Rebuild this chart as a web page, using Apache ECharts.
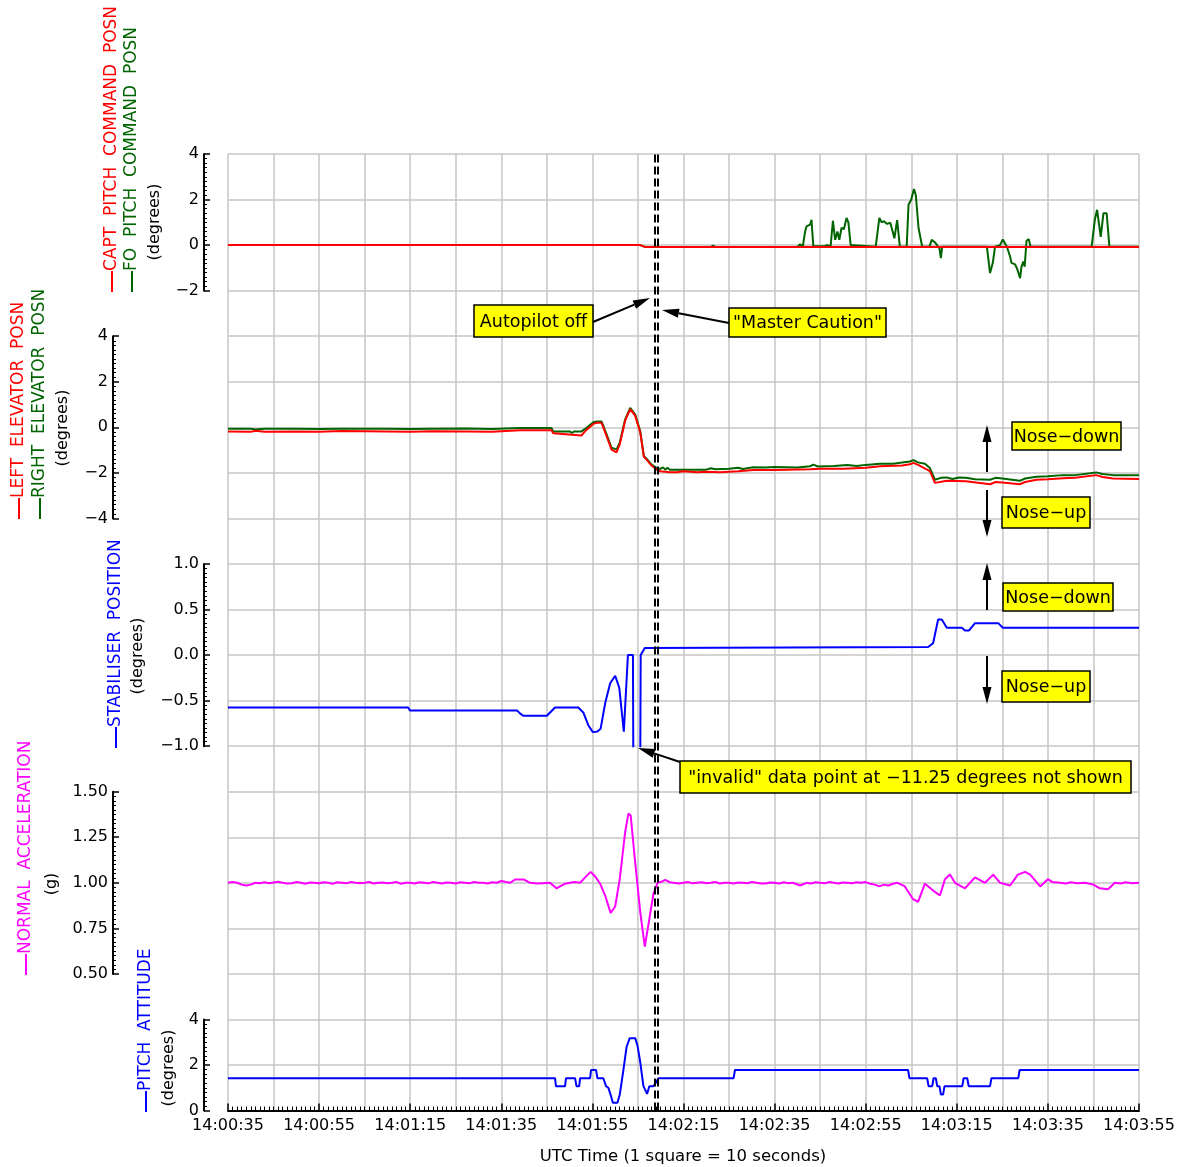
<!DOCTYPE html>
<html>
<head>
<meta charset="utf-8">
<script src="https://cdn.jsdelivr.net/npm/echarts@6/dist/echarts.min.js"></script>
<style>
html,body{margin:0;padding:0;background:#fff;}
#chart{width:1184px;height:1167px;}
</style>
</head>
<body>
<div id="chart"></div>
<script>
// ---------------- DATA (time = seconds after 14:00:35 UTC) ----------------
const xTickLabels = ['14:00:35','14:00:55','14:01:15','14:01:35','14:01:55','14:02:15','14:02:35','14:02:55','14:03:15','14:03:35','14:03:55'];
const eventTimes = [93.6, 94.4]; // autopilot off / master caution

const captPitchCmd = [[0,0],[90.5,0],[91.5,-0.08],[200,-0.08]];
const foPitchCmd = [[0,0],[90.5,0],[91.5,-0.08],[106,-0.08],[106.5,-0.02],[107,-0.08],[113,-0.08],[113.4,-0.03],[113.8,-0.08],[125,-0.08],[125.6,0.04],[126.2,-0.05],[126.7,0.6],[127.0,0.82],[127.8,0.9],[128.1,1.11],[128.5,-0.05],[131,-0.05],[131.5,0.0],[132.3,-0.05],[132.8,1.07],[133.3,0.23],[133.8,0.6],[134.2,0.23],[134.7,0.76],[135.2,0.7],[135.8,1.19],[136.2,1.0],[136.7,0.0],[137,-0.07],[142.2,-0.07],[143,1.19],[143.5,1.0],[144,1.05],[144.7,0.93],[145.4,0.98],[145.8,1.0],[146.3,0.3],[146.9,1.1],[147.5,-0.07],[149.0,-0.07],[149.4,1.77],[150.0,2.0],[150.6,2.46],[151.0,2.2],[151.6,0.75],[152.4,-0.07],[154.0,-0.07],[154.5,0.23],[155.3,0.1],[156.2,-0.15],[156.5,-0.57],[156.8,-0.07],[161.1,-0.07],[161.3,-0.12],[161.5,-0.07],[166.6,-0.07],[167.3,-1.23],[167.9,-0.78],[168.4,-0.07],[169.5,0.0],[170.1,0.25],[171.0,-0.07],[171.7,-0.5],[172.0,-0.78],[172.8,-0.85],[173.3,-1.07],[173.9,-1.45],[174.2,-0.95],[174.6,-0.72],[174.9,-0.95],[175.3,0.19],[175.8,0.26],[176.2,-0.07],[189.6,-0.07],[190.3,1.11],[190.8,1.55],[191.6,0.36],[192.2,1.4],[192.9,1.4],[193.5,-0.07],[200,-0.07]];

const rightElevator = [[0,-0.06],[5,-0.06],[6,-0.1],[8,-0.06],[15,-0.06],[20,-0.08],[25,-0.06],[35,-0.06],[40,-0.08],[45,-0.06],[52,-0.05],[58,-0.07],[64.1,-0.03],[71.0,-0.03],[71.4,-0.18],[75,-0.18],[75.5,-0.25],[76,-0.18],[77.6,-0.18],[78.5,-0.05],[80.2,0.22],[81,0.26],[82,0.26],[83.1,-0.3],[84.2,-0.9],[85.3,-0.97],[86.0,-0.68],[87.2,0.35],[88.3,0.85],[89.4,0.56],[90.5,-0.17],[91.3,-1.27],[91.9,-1.38],[93.0,-1.64],[94.1,-1.79],[94.9,-1.83],[95.5,-1.76],[96,-1.86],[96.5,-1.78],[97,-1.86],[105,-1.86],[106,-1.8],[107,-1.84],[110,-1.82],[112,-1.78],[113,-1.83],[115.3,-1.75],[118,-1.76],[120,-1.74],[125,-1.76],[127.8,-1.71],[128.5,-1.64],[129.5,-1.72],[133,-1.7],[136,-1.66],[138,-1.7],[140,-1.65],[143.1,-1.6],[146,-1.6],[148,-1.55],[149.7,-1.5],[150.5,-1.44],[151.5,-1.54],[153,-1.6],[154.1,-1.79],[155.2,-2.3],[156.5,-2.22],[157.8,-2.2],[159,-2.27],[160.5,-2.2],[162,-2.22],[164,-2.28],[167.3,-2.3],[168.5,-2.22],[170,-2.25],[173.8,-2.35],[175,-2.25],[177.5,-2.17],[180,-2.15],[183.3,-2.1],[186,-2.1],[190.6,-1.98],[192,-2.05],[194.3,-2.1],[200,-2.1]];

const leftElevator = [[0,-0.18],[5,-0.2],[6,-0.15],[8,-0.2],[15,-0.18],[20,-0.2],[25,-0.16],[35,-0.18],[40,-0.2],[45,-0.17],[52,-0.18],[58,-0.2],[64.1,-0.13],[71.0,-0.13],[71.4,-0.26],[77.6,-0.36],[78.5,-0.15],[80.2,0.15],[81,0.2],[82,0.2],[83.1,-0.38],[84.2,-0.98],[85.3,-1.1],[86.0,-0.75],[87.2,0.3],[88.3,0.8],[89.4,0.5],[90.5,-0.22],[91.3,-1.3],[91.9,-1.42],[93.0,-1.68],[94.1,-1.86],[94.9,-1.93],[97,-1.97],[98.5,-1.97],[100,-1.93],[103,-1.97],[105,-1.95],[108,-1.97],[112,-1.93],[115.3,-1.88],[120,-1.88],[127.8,-1.84],[130,-1.82],[135,-1.82],[140,-1.78],[143.1,-1.71],[148,-1.68],[149.7,-1.62],[150.5,-1.56],[151.5,-1.65],[154.1,-1.92],[155.2,-2.44],[157.8,-2.35],[162,-2.37],[167.3,-2.5],[168.5,-2.4],[170,-2.42],[173.8,-2.5],[175,-2.4],[177.5,-2.3],[180,-2.28],[183.3,-2.24],[186,-2.22],[190.6,-2.1],[192,-2.18],[194.3,-2.25],[200,-2.27]];

const stabiliser = [[0,-0.575],[39.5,-0.575],[40,-0.61],[63.5,-0.61],[64.1,-0.64],[64.8,-0.667],[70,-0.667],[71.8,-0.575],[76.9,-0.575],[78,-0.63],[79.1,-0.77],[80.1,-0.846],[81.1,-0.84],[81.8,-0.81],[82.8,-0.53],[83.9,-0.31],[85,-0.227],[85.9,-0.36],[86.9,-0.84],[87.8,0],[88.9,0],[89.7,-11.25],[90.6,0],[91.5,0.077],[153.7,0.088],[154.8,0.13],[155.9,0.39],[156.7,0.39],[157.8,0.30],[161.1,0.30],[161.8,0.27],[162.7,0.27],[164,0.35],[169.1,0.35],[170.1,0.30],[200,0.30]];

const normalAccel = [[0,1.0],[1,1.004],[2,1.0],[3,0.99],[4,0.985],[5,0.99],[6,1.0],[7,0.997],[8,1.003],[9,0.998],[10,1.002],[11,1.006],[12,1.0],[13,0.996],[14,0.998],[15,1.004],[16,1.0],[17,0.995],[18,1.002],[19,1.0],[20,0.998],[21,1.003],[22,1.0],[23,0.995],[24,1.003],[25,1.0],[26,0.997],[27,1.004],[28,1.0],[29,0.997],[30,1.0],[31,1.004],[32,0.996],[33,1.0],[34,1.002],[35,0.997],[36,1.0],[37,1.004],[38,0.995],[39,1.0],[40,1.0],[41,0.996],[42,1.003],[43,1.0],[44,0.997],[45,1.004],[46,1.0],[47,0.996],[48,1.002],[49,1.0],[50,0.996],[51,1.003],[52,1.0],[53,0.997],[54,1.004],[55,1.0],[56,1.0],[57,0.996],[58,1.003],[59,1.0],[60,1.01],[61,1.004],[62,1.0],[63,1.018],[65,1.018],[66.3,1.0],[68,0.996],[70.7,1.0],[72.1,0.97],[73.2,0.985],[74,0.995],[75.1,1.0],[76,1.004],[77.3,1.0],[78.4,1.03],[79.6,1.06],[80.6,1.035],[81.7,0.995],[82.8,0.93],[84.0,0.835],[85.0,0.87],[86.0,1.02],[87.2,1.28],[87.9,1.38],[88.4,1.37],[89.4,1.11],[90.5,0.84],[91.5,0.65],[92.3,0.77],[93.4,0.94],[94.3,1.0],[95,1.004],[96.0,1.016],[97,1.003],[97.8,1.0],[99,0.996],[100,1.0],[101,1.004],[102,0.997],[103,1.0],[104,1.003],[105,0.997],[106,1.0],[107,1.004],[108,0.996],[109,1.0],[110,1.0],[111,0.996],[112,1.002],[113,1.0],[114,0.998],[115,1.004],[116,1.0],[117,0.996],[118,0.996],[119,1.002],[120,1.0],[121,0.996],[122,1.003],[123,0.998],[124,1.0],[125.6,0.985],[127,1.0],[128,0.996],[129,1.003],[130,1.0],[131,0.997],[132,1.004],[133,1.0],[134,0.996],[135,1.002],[136,1.0],[137,0.997],[138,1.003],[139,1.0],[140,1.004],[141,0.995],[142,0.99],[143,0.98],[144,0.99],[145,0.985],[146,0.995],[147,1.0],[148.6,0.98],[150.4,0.91],[151.5,0.895],[153,0.995],[155.2,0.95],[156.3,0.93],[157.4,1.02],[158.5,1.045],[159.6,1.0],[161.8,0.97],[164,1.03],[166.2,1.0],[168,1.045],[169.5,1.0],[171.7,0.985],[173.4,1.045],[175,1.06],[176.1,1.045],[178.3,0.98],[180,1.02],[181,1.004],[182.7,1.0],[184,0.996],[185,1.003],[186.5,0.997],[188.1,1.0],[190,0.99],[191.4,0.97],[193.2,0.965],[194.7,1.0],[196,0.996],[197,1.003],[198.5,0.998],[200,1.0]];

const pitchAttitude = [[0,1.42],[71.8,1.42],[72.0,1.07],[74.0,1.07],[74.2,1.42],[76.2,1.42],[76.5,1.07],[77.1,1.07],[77.3,1.42],[79.5,1.42],[79.7,1.78],[80.8,1.78],[81.1,1.42],[82.4,1.42],[83.0,1.07],[83.5,1.0],[84.0,0.69],[84.5,0.34],[85.5,0.34],[86.0,0.69],[86.8,1.77],[87.5,2.79],[88.2,3.18],[89.4,3.18],[89.9,2.85],[90.5,2.13],[91.2,1.07],[92.0,0.73],[92.5,1.07],[93.4,1.07],[94.0,1.25],[94.5,1.42],[111,1.42],[111.3,1.78],[149.3,1.78],[149.6,1.42],[153.5,1.42],[153.8,1.07],[154.6,1.07],[154.9,1.42],[155.4,1.42],[155.7,1.07],[156.2,1.07],[156.5,0.71],[157.0,0.71],[157.3,1.07],[161.2,1.07],[161.5,1.42],[162.3,1.42],[162.6,1.07],[167.3,1.07],[167.6,1.42],[173.5,1.42],[173.8,1.78],[200,1.78]];

// ---------------- LAYOUT ----------------
const FONT = 'DejaVu Sans';
const L = 228, W = 911, T0 = 154, SQ = W / 20;
const RED = '#ff0000', GREEN = '#006400', BLUE = '#0000ff', MAG = '#ff00ff';

const panels = [
  {top: T0,           h: 3*SQ, min: -2,  max: 4,   interval: 2,    dec: 0, offset: 24},
  {top: T0 + 4*SQ,    h: 4*SQ, min: -4,  max: 4,   interval: 2,    dec: 0, offset: 115},
  {top: T0 + 9*SQ,    h: 4*SQ, min: -1,  max: 1,   interval: 0.5,  dec: 1, offset: 24},
  {top: T0 + 14*SQ,   h: 4*SQ, min: 0.5, max: 1.5, interval: 0.25, dec: 2, offset: 115},
  {top: T0 + 19*SQ,   h: 2*SQ, min: 0,   max: 4,   interval: 2,    dec: 0, offset: 24}
];

const grids = [{left: L, top: T0, width: W, height: 21*SQ}];
panels.forEach(p => grids.push({left: L, top: p.top, width: W, height: p.h}));

const xAxes = [{
  gridIndex: 0, type: 'value', min: 0, max: 200, interval: 10,
  axisLine: {show: false}, axisTick: {show: false}, axisLabel: {show: false},
  splitLine: {show: true, lineStyle: {color: '#c6c6c6', width: 1.5}}
}];
const yAxes = [{
  gridIndex: 0, type: 'value', min: 0, max: 21, interval: 1,
  axisLine: {show: false}, axisTick: {show: false}, axisLabel: {show: false},
  splitLine: {show: true, lineStyle: {color: '#c6c6c6', width: 1.5}}
}];
panels.forEach((p, i) => {
  const last = i === panels.length - 1;
  xAxes.push(last ? {
    gridIndex: i + 1, type: 'value', min: 0, max: 200, interval: 20, position: 'bottom',
    axisLine: {show: true, lineStyle: {color: '#000', width: 2}},
    axisTick: {show: true, inside: true, length: 7, lineStyle: {color: '#000', width: 1.5}},
    minorTick: {show: true, splitNumber: 20, length: 4, lineStyle: {color: '#000', width: 1}},
    axisLabel: {show: true, margin: 7, color: '#000', fontFamily: FONT, fontSize: 16,
      formatter: v => xTickLabels[Math.round(v / 20)] || ''},
    splitLine: {show: false}
  } : {gridIndex: i + 1, type: 'value', min: 0, max: 200, show: false});
  yAxes.push({
    gridIndex: i + 1, type: 'value', min: p.min, max: p.max, interval: p.interval,
    position: 'left', offset: p.offset,
    axisLine: {show: true, onZero: false, lineStyle: {color: '#000', width: 2}},
    axisTick: {show: true, inside: true, length: 6, lineStyle: {color: '#000', width: 1.5}},
    minorTick: {show: true, splitNumber: 10, length: 3, lineStyle: {color: '#000', width: 1}},
    axisLabel: {show: true, margin: 5, color: '#000', fontFamily: FONT, fontSize: 16,
      formatter: v => v.toFixed(p.dec).replace('-', '\u2212')},
    splitLine: {show: false}
  });
});

function line(idx, data, color) {
  return {type: 'line', xAxisIndex: idx, yAxisIndex: idx, data: data, showSymbol: false,
    symbol: 'none', clip: true, lineStyle: {color: color, width: 2}, z: 3, silent: true};
}

const series = [
  {type: 'line', xAxisIndex: 0, yAxisIndex: 0, data: [[0, 0]], symbol: 'none', lineStyle: {opacity: 0},
   silent: true, z: 5,
   markLine: {silent: true, symbol: ['none', 'none'], label: {show: false},
     lineStyle: {color: '#000', type: [8, 4], width: 2},
     data: eventTimes.map(t => ({xAxis: t}))}},
  line(1, foPitchCmd, GREEN),
  line(1, captPitchCmd, RED),
  line(2, rightElevator, GREEN),
  line(2, leftElevator, RED),
  line(3, stabiliser, BLUE),
  line(4, normalAccel, MAG),
  line(5, pitchAttitude, BLUE)
];

// ---------------- ANNOTATIONS ----------------
const g = [];
function vtext(x, y, text, color, size, align) {
  g.push({type: 'text', x: x, y: y, rotation: Math.PI / 2, z: 10,
    style: {text: text, fill: color, font: size + 'px "' + FONT + '"',
      align: align, textAlign: align, verticalAlign: 'middle', textVerticalAlign: 'middle'}});
}
function vtitle(x, yb, text, color) {
  g.push({type: 'line', z: 10, shape: {x1: x, y1: yb, x2: x, y2: yb - 21}, style: {stroke: color, lineWidth: 2}});
  vtext(x, yb - 21, text, color, 17, 'left');
}
function box(x1, y1, x2, y2, text) {
  g.push({type: 'rect', z: 20, shape: {x: x1, y: y1, width: x2 - x1, height: y2 - y1},
    style: {fill: '#ffff00', stroke: '#000', lineWidth: 1.5}});
  g.push({type: 'text', z: 21, x: (x1 + x2) / 2, y: (y1 + y2) / 2 + 1,
    style: {text: text, fill: '#000', font: '17.5px "' + FONT + '"', align: 'center', textAlign: 'center',
      verticalAlign: 'middle', textVerticalAlign: 'middle'}});
}
function arrow(x1, y1, x2, y2) {
  const a = Math.atan2(y2 - y1, x2 - x1), c = Math.cos(a), s = Math.sin(a);
  const hl = 17, hw = 4.5;
  const bx = x2 - hl * c, by = y2 - hl * s;
  g.push({type: 'line', z: 20, shape: {x1: x1, y1: y1, x2: bx, y2: by}, style: {stroke: '#000', lineWidth: 2}});
  g.push({type: 'polygon', z: 20, shape: {points: [[x2, y2], [bx - s * hw, by + c * hw], [bx + s * hw, by - c * hw]]},
    style: {fill: '#000'}});
}

// axis titles
vtitle(112, 292, 'CAPT  PITCH  COMMAND  POSN', RED);
vtitle(132, 292, 'FO  PITCH  COMMAND  POSN', GREEN);
vtext(155, 222, '(degrees)', '#000', 16, 'center');
vtitle(19, 519, 'LEFT  ELEVATOR  POSN', RED);
vtitle(40, 519, 'RIGHT  ELEVATOR  POSN', GREEN);
vtext(63, 428, '(degrees)', '#000', 16, 'center');
vtitle(116, 748, 'STABILISER  POSITION', BLUE);
vtext(138, 656, '(degrees)', '#000', 16, 'center');
vtitle(26, 975, 'NORMAL  ACCELERATION', MAG);
vtext(52, 884, '(g)', '#000', 16, 'center');
vtitle(146, 1112, 'PITCH  ATTITUDE', BLUE);
vtext(169, 1068, '(degrees)', '#000', 16, 'center');

g.push({type: 'text', x: 683, y: 1157, z: 10,
  style: {text: 'UTC Time (1 square = 10 seconds)', fill: '#000', font: '16.5px "' + FONT + '"',
    align: 'center', textAlign: 'center', verticalAlign: 'middle', textVerticalAlign: 'middle'}});

// callouts
arrow(593, 322, 650, 298);
box(474, 305, 593, 337, 'Autopilot off');
arrow(729, 323, 662, 310);
box(729, 308, 886, 337, '"Master Caution"');
arrow(987, 472, 987, 425);
box(1012, 422, 1121, 450, 'Nose\u2212down');
arrow(987, 490, 987, 537);
box(1002, 497, 1090, 528, 'Nose\u2212up');
arrow(987, 610, 987, 563);
box(1003, 583, 1113, 611, 'Nose\u2212down');
arrow(987, 656, 987, 704);
box(1002, 671, 1090, 702, 'Nose\u2212up');
arrow(680, 762, 638, 748);
box(680, 761, 1131, 793, '"invalid" data point at \u221211.25 degrees not shown');

const chart = echarts.init(document.getElementById('chart'), null, {renderer: 'canvas'});
chart.setOption({
  animation: false,
  backgroundColor: '#fff',
  textStyle: {fontFamily: FONT},
  grid: grids,
  xAxis: xAxes,
  yAxis: yAxes,
  series: series,
  graphic: g
});
</script>
</body>
</html>
